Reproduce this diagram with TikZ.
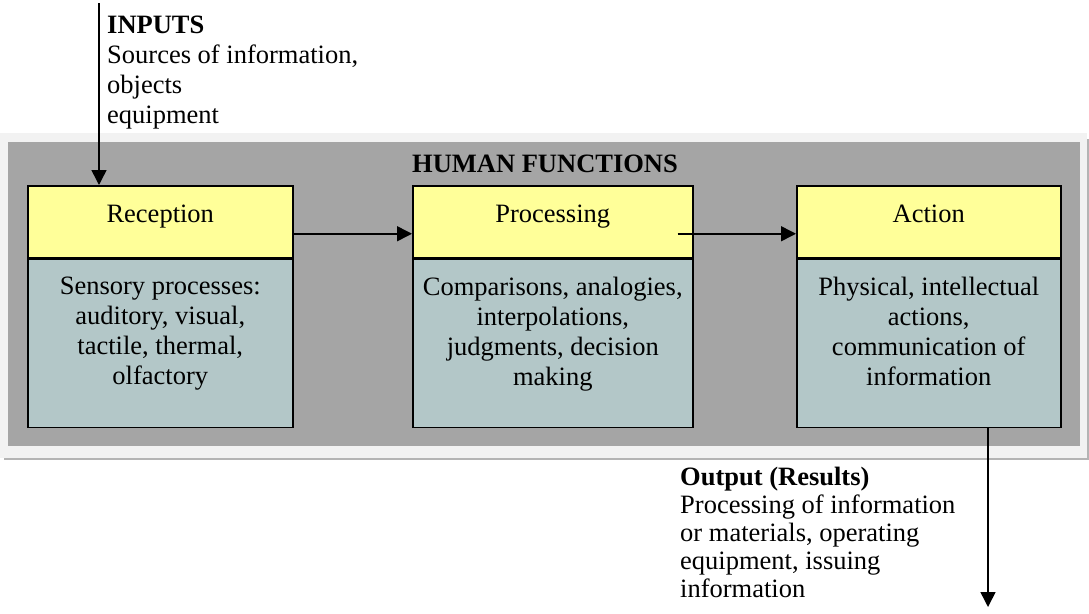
\documentclass[tikz,border=0pt]{standalone}
\usepackage{fontspec}
\setmainfont{Liberation Serif}
\usepackage{xcolor}
\usetikzlibrary{positioning, arrows.meta}
\definecolor{headyellow}{HTML}{FFFF99}
\definecolor{bodyblue}{HTML}{B3C7C8}
\definecolor{panelgray}{HTML}{A5A5A5}
\definecolor{panelrim}{HTML}{F2F2F2}
\definecolor{panelshade}{HTML}{B4B4B4}
\newcommand{\diagfont}{\fontsize{26.5}{30}\selectfont}

\begin{document}
\begin{tikzpicture}[x=1pt, y=-1pt,
    every node/.style={font=\diagfont, inner sep=0pt},
    head/.style={rectangle, draw, line width=1.5pt, fill=headyellow, minimum height=72pt, text height=18pt, text depth=16pt},
    body/.style={rectangle, draw, line width=1.5pt, fill=bodyblue, minimum height=168pt},
    boxtext/.style={align=center},
    flow/.style={-{Triangle[length=15pt, width=15pt]}, line width=1.5pt}]
        \useasboundingbox (0,0) rectangle (1089,613);
        % Panel behind the three functions
        \fill[panelshade] (4,139) rectangle (1089,460);
        \fill[panelrim] (0,133) rectangle (1087,458);
        \fill[panelgray] (8,142) rectangle (1080,446);
        \node[font=\diagfont\bfseries, anchor=base] (title) at (545,172) {HUMAN FUNCTIONS};
        % Function blocks
        \node[head, minimum width=265pt, anchor=north west] (rechead) at (27,185) {Reception};
        \node[body, minimum width=265pt, below=0pt of rechead] (recbody) {};
        \node[boxtext, below=18pt of recbody.north] (rectext) {Sensory processes:\\auditory, visual,\\tactile, thermal,\\olfactory};
        \node[head, minimum width=280pt, anchor=north west] (prochead) at (412,185) {Processing};
        \node[body, minimum width=280pt, below=0pt of prochead] (procbody) {};
        \node[boxtext, below=18pt of procbody.north] (proctext) {Comparisons, analogies,\\interpolations,\\judgments, decision\\making};
        \node[head, minimum width=264pt, anchor=north west] (acthead) at (796,185) {Action};
        \node[body, minimum width=264pt, below=0pt of acthead] (actbody) {};
        \node[boxtext, below=18pt of actbody.north] (acttext) {Physical, intellectual\\actions,\\communication of\\information};
        % Inputs and outputs
        \node[align=left, anchor=north west] (inputs) at (107,15.5) {\textbf{INPUTS}\\Sources of information,\\objects\\equipment};
        \node[align=left, anchor=north west, font=\fontsize{26.5}{28}\selectfont] (outputs) at (680,467) {\textbf{Output (Results)}\\Processing of information\\or materials, operating\\equipment, issuing\\information};
        \coordinate (insrc) at (99,3);
        \coordinate (outend) at (988,607);
        % Arrows between blocks
        \draw[flow] (insrc) -- (insrc |- rechead.north);
        \draw[flow] ([yshift=-12pt]rechead.east) -- ([yshift=-12pt]prochead.west);
        \draw[flow] ([xshift=-16pt, yshift=-12pt]prochead.east) -- ([yshift=-12pt]acthead.west);
        \draw[flow] (outend |- actbody.south) -- (outend);
    \end{tikzpicture}
\end{document}
